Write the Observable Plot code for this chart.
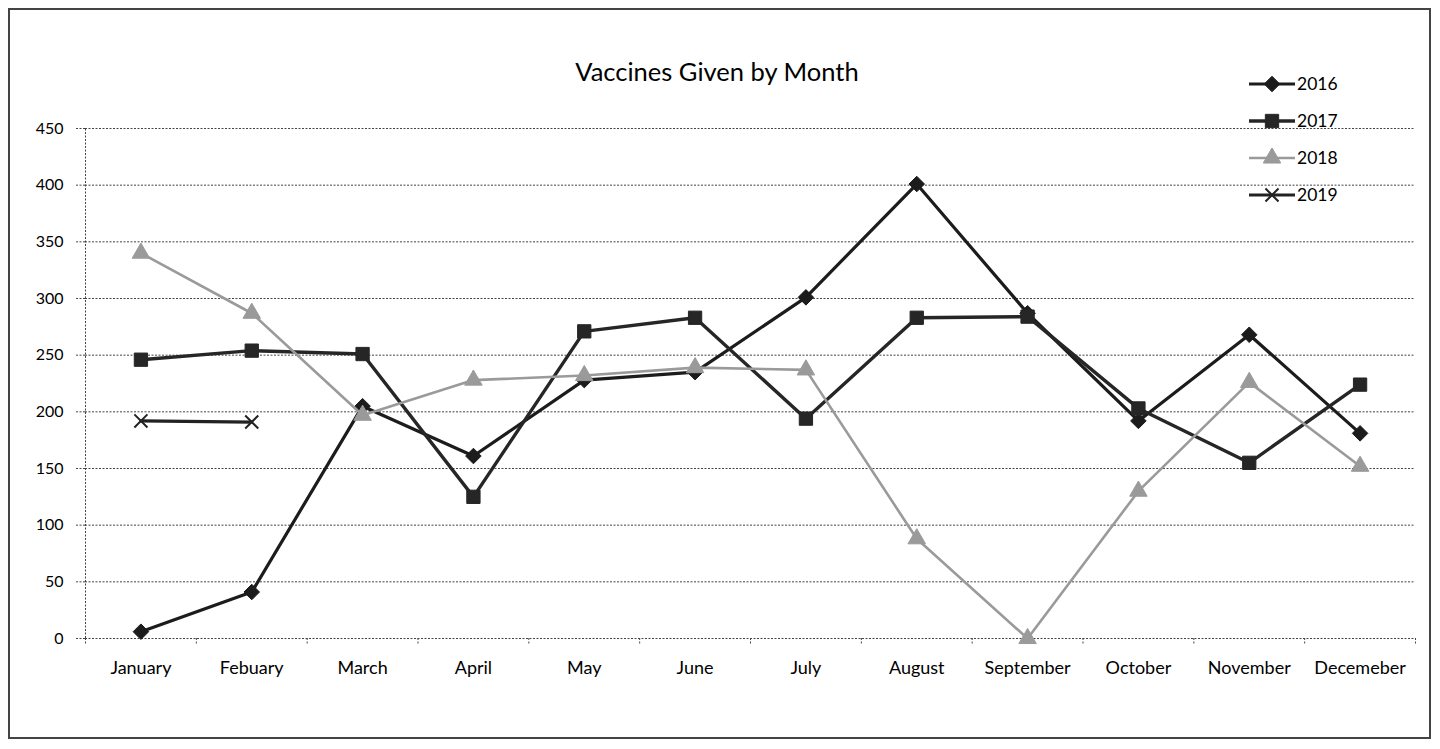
<!DOCTYPE html>
<html>
<head>
<meta charset="utf-8">
<script src="https://cdn.jsdelivr.net/npm/d3@7"></script>
<script src="https://cdn.jsdelivr.net/npm/@observablehq/plot@0.6"></script>
<style>
  html, body { margin: 0; padding: 0; background: #fff; }
  body { width: 1440px; height: 749px; position: relative; overflow: hidden; font-family: Lato, "Open Sans", sans-serif; }
  #frame { position: absolute; left: 8px; top: 8px; width: 1423px; height: 731px; border: 2px solid #444; box-sizing: border-box; }
  #title { position: absolute; left: 0; width: 1434px; top: 56px; text-align: center; font-size: 25.5px; line-height: 30px; color: #000; }
  #chart { position: absolute; left: 0; top: 0; }
  #legend { position: absolute; left: 1248px; top: 65px; font-size: 17.5px; color: #000; }
  .item { height: 37px; display: flex; align-items: center; }
  .item svg { margin-right: 1px; }
</style>
</head>
<body>
<div id="chart"></div>
<div id="frame"></div>
<div id="title">Vaccines Given by Month</div>
<div id="legend"></div>
<script>
const months = ["January","Febuary","March","April","May","June","July","August","September","October","November","Decemeber"];
const yTicks = [0,50,100,150,200,250,300,350,400,450];
const v2016 = [6, 41, 205, 161, 228, 235, 301, 401, 287, 192, 268, 181];
const v2017 = [246, 254, 251, 125, 271, 283, 194, 283, 284, 203, 155, 224];
const v2018 = [340, 287, 197, 228, 232, 239, 237, 88, 0, 130, 226, 152];
const v2019 = [192, 191];

const series = [
  {name: "2016", values: v2016, color: "#1c1c1c", width: 3.2, symbol: "diamond2", r: 7, fill: true},
  {name: "2017", values: v2017, color: "#262626", width: 3.4, symbol: "square", r: 7.5, fill: true},
  {name: "2018", values: v2018, color: "#9a9a9a", width: 2.6, symbol: "triangle", r: 6.5, fill: true},
  {name: "2019", values: v2019, color: "#222222", width: 3.2, symbol: "times", r: 6, fill: false}
];
const rows = series.flatMap(s => s.values.map((v, i) => ({series: s.name, i, v})));
const boundaries = d3.range(-0.5, 12, 1);

const marks = [
  Plot.gridY(yTicks, {stroke: "#444", strokeOpacity: 1, strokeWidth: 1, strokeDasharray: "2,1.5"}),
  Plot.ruleX([-0.5], {y1: 0, y2: 450, stroke: "#444", strokeDasharray: "2,1.5"}),
  Plot.ruleX(boundaries, {y1: 0, y2: -5.5, stroke: "#444", strokeDasharray: "2,1.5"}),
  Plot.ruleY(yTicks, {x1: -0.5, x2: -0.59, stroke: "#444", strokeDasharray: "2,1.5"}),
  Plot.axisY(yTicks, {tickSize: 0, tickPadding: 22, fontSize: 16, fill: "#000", label: null}),
  Plot.axisX(d3.range(12), {tickSize: 0, tickPadding: 23, fontSize: 18, fill: "#000", label: null, tickFormat: i => months[i]})
];
for (const s of series) {
  const data = rows.filter(d => d.series === s.name);
  marks.push(Plot.line(data, {x: "i", y: "v", stroke: s.color, strokeWidth: s.width}));
  marks.push(Plot.dot(data, {x: "i", y: "v", symbol: () => s.symbol, r: s.r,
    fill: s.fill ? s.color : "none", stroke: s.color, strokeWidth: s.fill ? 1 : 2}));
}

const chart = Plot.plot({
  width: 1440,
  height: 749,
  marginLeft: 85,
  marginRight: 25,
  marginTop: 128,
  marginBottom: 111,
  style: {fontFamily: "Lato, 'Open Sans', sans-serif", background: "transparent"},
  x: {type: "linear", domain: [-0.5, 11.5], axis: null},
  y: {domain: [0, 450], axis: null},
  symbol: {type: "identity"},
  marks
});
document.getElementById("chart").appendChild(chart);

// legend
const legend = document.getElementById("legend");
const symGen = {diamond2: d3.symbolDiamond2, square: d3.symbolSquare, triangle: d3.symbolTriangle, times: d3.symbolTimes};
for (const s of series) {
  const div = document.createElement("div");
  div.className = "item";
  const size = Math.PI * s.r * s.r;
  const path = d3.symbol(symGen[s.symbol], size)();
  div.innerHTML = `<svg width="48" height="20"><line x1="1" x2="47" y1="10" y2="10" stroke="${s.color}" stroke-width="${s.width}"/>` +
    `<path transform="translate(24,10)" d="${path}" fill="${s.fill ? s.color : "none"}" stroke="${s.color}" stroke-width="${s.fill ? 1 : 2}"/></svg><span>${s.name}</span>`;
  legend.appendChild(div);
}
</script>
</body>
</html>
